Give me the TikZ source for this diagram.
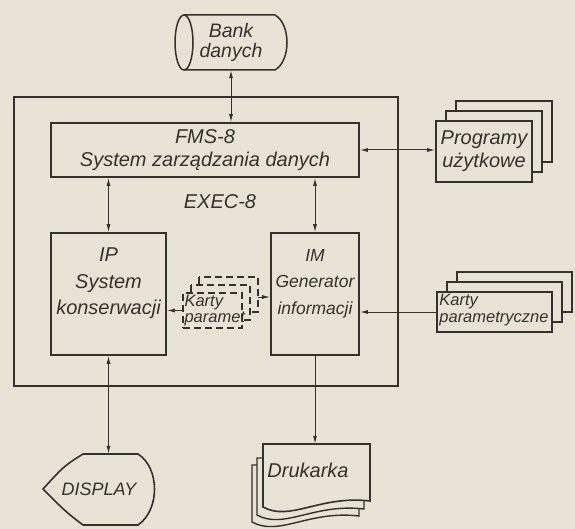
\documentclass[tikz,border=0pt]{standalone}
\usepackage{fontspec}
\setsansfont{Liberation Sans}
\usetikzlibrary{arrows.meta,positioning,calc}
\definecolor{paper}{RGB}{233,227,213}
\definecolor{ink}{RGB}{52,50,46}

\begin{document}
\begin{tikzpicture}[x=1pt,y=-1pt,>={Latex[length=8pt,width=4pt]},
    txt/.style={text=ink,font=\sffamily\itshape\fontsize{20}{23}\selectfont,align=center,inner sep=0pt},
    box/.style={draw=ink,line width=1.6pt,fill=paper,inner sep=0pt},
    conn/.style={draw=ink,line width=1pt}]
    \fill[paper] (0,0) rectangle (575,529);
    \useasboundingbox (0,0) rectangle (575,529);
    % frame EXEC-8
    \draw[ink,line width=1.6pt] (14,97) rectangle (398,386);
    \node[txt] (exec) at (220,202) {EXEC-8};
    % bank danych
    \draw[ink,line width=1.5pt] (184,15) -- (275,15) .. controls (291,24) and (291,61) .. (275,70) -- (184,70);
    \draw[ink,line width=1.5pt] (184,42.5) ellipse (9 and 27.5);
    \node[txt,font=\sffamily\itshape\fontsize{19.5}{20}\selectfont,minimum width=112pt,minimum height=55pt] (bank) at (231,42.5) {Bank\\danych};
    % FMS
    \node[box,txt,minimum width=308pt,minimum height=54pt] (fms) at (205,150) {FMS-8\\System zarz\k{a}dzania danych};
    % programy uzytkowe
    \foreach \d in {2,1}
        \draw[ink,line width=1.5pt,fill=paper] (436+10*\d,121-10*\d) rectangle (532+10*\d,182-10*\d);
    \node[box,txt,minimum width=96pt,minimum height=61pt] (prog) at (484,151.5) {Programy\\użytkowe};
    % IP and IM
    \node[box,minimum width=115pt,minimum height=122pt] (ip) at (108.5,294) {};
    \node[txt,font=\sffamily\itshape\fontsize{20}{26.5}\selectfont] (iptext) at ([yshift=10.5pt]ip.center) {IP\\System\\konserwacji};
    \node[box,minimum width=88pt,minimum height=122pt] (im) at (315,294) {};
    \node[txt,font=\sffamily\itshape\fontsize{17.5}{26.5}\selectfont] (imtext) at ([yshift=10.5pt]im.center) {IM\\Generator\\informacji};
    % karty param (dashed)
    \foreach \d in {2,1}
        \draw[ink,line width=1.3pt,dash pattern=on 7pt off 4pt,fill=paper] (183+8*\d,293-8*\d) rectangle (242+8*\d,328-8*\d);
    \node[box,line width=1.3pt,dash pattern=on 7pt off 4pt,minimum width=59pt,minimum height=35pt] (kparam) at (212.5,310.5) {};
    \node[txt,font=\sffamily\itshape\fontsize{16.5}{16.5}\selectfont,align=left,anchor=west] (kparamtext) at ([xshift=2pt]kparam.west) {Karty\\paramet};
    \coordinate (kpback) at (258,297);
    % karty parametryczne
    \foreach \d in {2,1}
        \draw[ink,line width=1.5pt,fill=paper] (437+10*\d,292-10*\d) rectangle (552+10*\d,332-10*\d);
    \node[box,minimum width=115pt,minimum height=40pt] (kartyp) at (494.5,312) {};
    \node[txt,font=\sffamily\itshape\fontsize{16.5}{16.5}\selectfont,align=left,anchor=west] (kartyptext) at ([xshift=3pt,yshift=2pt]kartyp.west) {Karty\\parametryczne};
    % display
    \draw[ink,line width=1.6pt] (83,454) -- (138,454) .. controls (160,468) and (160,510) .. (138,525) -- (83,525) .. controls (66,512) .. (43,489) .. controls (64,466) .. cycle;
    \node[txt,font=\sffamily\itshape\fontsize{18}{20}\selectfont,minimum height=70pt] (display) at (99,489) {DISPLAY};
    % drukarka
    \draw[ink,line width=1.4pt,fill=paper] (252,465) -- (359,465) -- (359,516) .. controls (309,510) and (279,537) .. (252,522) -- cycle;
    \draw[ink,line width=1.4pt,fill=paper] (257,458) -- (364,458) -- (364,509) .. controls (314,503) and (284,530) .. (257,515) -- cycle;
    \draw[ink,line width=1.6pt,fill=paper] (263,444) -- (370,444) -- (370,501) .. controls (320,495) and (290,522) .. (263,507) -- cycle;
    \node[txt,minimum height=52pt] (druk) at (308,470) {Drukarka};
    % connections
    \draw[conn,<->] (bank.south) -- (bank.south |- fms.north);
    \draw[conn,<->] (fms.east) -- (fms.east -| prog.west);
    \draw[conn,<->] (ip.north |- fms.south) -- (ip.north);
    \draw[conn,<->] (im.north |- fms.south) -- (im.north);
    \draw[conn,->] (kartyp.west) -- (kartyp.west -| im.east);
    \draw[conn,->] (kparam.west) -- (kparam.west -| ip.east);
    \draw[conn,->] (kpback) -- (kpback -| im.west);
    \draw[conn,<->] (ip.south) -- (ip.south |- display.north);
    \draw[conn,->] (im.south) -- (im.south |- druk.north);
\end{tikzpicture}
\end{document}
